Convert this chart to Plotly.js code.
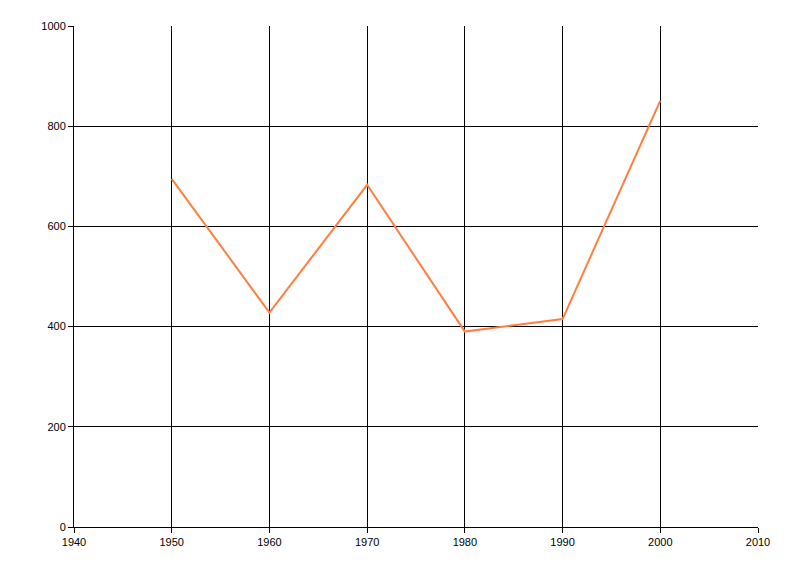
<!DOCTYPE html>
<html>
<head>
<meta charset="utf-8">
<script src="https://cdn.plot.ly/plotly-3.0.1.min.js"></script>
<style>html,body{margin:0;padding:0;background:#fff}#chart{width:800px;height:576px}</style>
</head>
<body>
<div id="chart"></div>
<script>
const years = [1950, 1960, 1970, 1980, 1990, 2000];
const values = [695, 428, 683, 390, 415, 851];

const trace = {
  x: years,
  y: values,
  type: 'scatter',
  mode: 'lines',
  line: {color: 'rgb(255,127,63)', width: 2},
  hoverinfo: 'x+y'
};

const axisCommon = {
  showgrid: true,
  gridcolor: '#000',
  gridwidth: 1,
  showline: true,
  linecolor: '#000',
  linewidth: 1,
  ticks: 'outside',
  ticklen: 5,
  tickcolor: '#000',
  tickfont: {family: 'Liberation Sans, Arial, sans-serif', size: 11, color: '#000'},
  zeroline: false,
  fixedrange: true
};

const layout = {
  width: 800,
  height: 576,
  margin: {l: 74, r: 42, t: 26, b: 49},
  paper_bgcolor: '#fff',
  plot_bgcolor: '#fff',
  showlegend: false,
  xaxis: Object.assign({}, axisCommon, {range: [1940, 2010], dtick: 10, tick0: 1940, mirror: false}),
  yaxis: Object.assign({}, axisCommon, {range: [0, 1000], dtick: 200, tick0: 0})
};

Plotly.newPlot('chart', [trace], layout, {displayModeBar: false, staticPlot: true});
</script>
</body>
</html>
